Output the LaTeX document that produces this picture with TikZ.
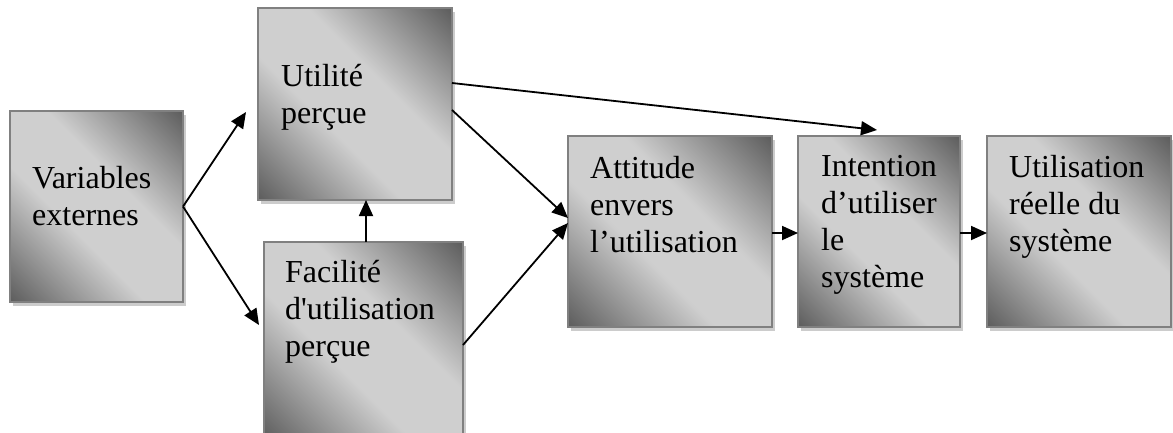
\documentclass[tikz,border=0pt]{standalone}
\usepackage{fontspec}
\setmainfont{Liberation Serif}
\usetikzlibrary{arrows.meta,shadows}

\definecolor{boxdark}{gray}{0.37}
\definecolor{boxlight}{gray}{0.81}
\definecolor{boxedge}{gray}{0.5}
\definecolor{boxshadow}{gray}{0.8}

% diagonal fill: dark at two opposite corners, broad light band between
\pgfdeclareverticalshading{panelshade}{100bp}{%
  color(0bp)=(boxdark); color(15bp)=(boxdark); color(41bp)=(boxlight);
  color(59bp)=(boxlight); color(85bp)=(boxdark); color(100bp)=(boxdark)}

\begin{document}
\begin{tikzpicture}[x=1pt,y=-1pt,
  panel/.style={rectangle, draw=boxedge, line width=1.2pt, inner sep=0pt, outer sep=0pt,
    shade, shading=panelshade, shading angle=-45,
    general shadow={fill=boxshadow, shadow xshift=3pt, shadow yshift=-4pt}},
  boxtext/.style={anchor=base west, align=left, inner sep=0pt,
    font=\fontsize{32}{37}\selectfont},
  link/.style={line width=1.8pt, -{Triangle[length=16pt,width=14pt]}}]

\useasboundingbox (0,0) rectangle (1173,432);

% boxes of the model
\node[panel, minimum width=173pt, minimum height=191pt] (var) at (96.5,206.5) {};
\node[panel, minimum width=194pt, minimum height=192pt] (ut)  at (355,104) {};
\node[panel, minimum width=199pt, minimum height=198pt] (fac) at (363.5,341) {};
\node[panel, minimum width=204pt, minimum height=191pt] (att) at (670,231.5) {};
\node[panel, minimum width=162pt, minimum height=191pt] (int) at (879,231.5) {};
\node[panel, minimum width=184pt, minimum height=191pt] (use) at (1079,231.5) {};

% box captions (anchored at the baseline of their last line)
\node[boxtext] (varT) at (32,225)   {Variables\\externes};
\node[boxtext] (utT)  at (281,123)  {Utilité\\perçue};
\node[boxtext] (facT) at (285,356)  {Facilité\\d\textquotesingle utilisation\\perçue};
\node[boxtext] (attT) at (590,252)  {Attitude\\envers\\l’utilisation};
\node[boxtext] (intT) at (821,287)  {Intention\\d’utiliser\\le\\système};
\node[boxtext] (useT) at (1009,251) {Utilisation\\réelle du\\système};

% connectors
\draw[link] (var.east) -- ([xshift=-12pt,yshift=-8pt]ut.west);
\draw[link] (var.east) -- ([xshift=-5pt,yshift=16pt]fac.west);
\draw[link] ([xshift=2.5pt]fac.north) -- ([xshift=2.5pt]fac.north |- ut.south);
\draw[link] ([yshift=21pt]ut.east) -- ([xshift=-2pt,yshift=6pt]int.north);
\draw[link] ([yshift=-6pt]ut.east) -- ([yshift=13.5pt]att.west);
\draw[link] ([yshift=-4pt]fac.east) -- ([yshift=8.5pt]att.west);
\draw[link] ([yshift=-1.5pt]att.east) -- ([yshift=-1.5pt]int.west);
\draw[link] ([yshift=-1.5pt]int.east) -- ([yshift=-1.5pt]use.west);
\end{tikzpicture}
\end{document}
